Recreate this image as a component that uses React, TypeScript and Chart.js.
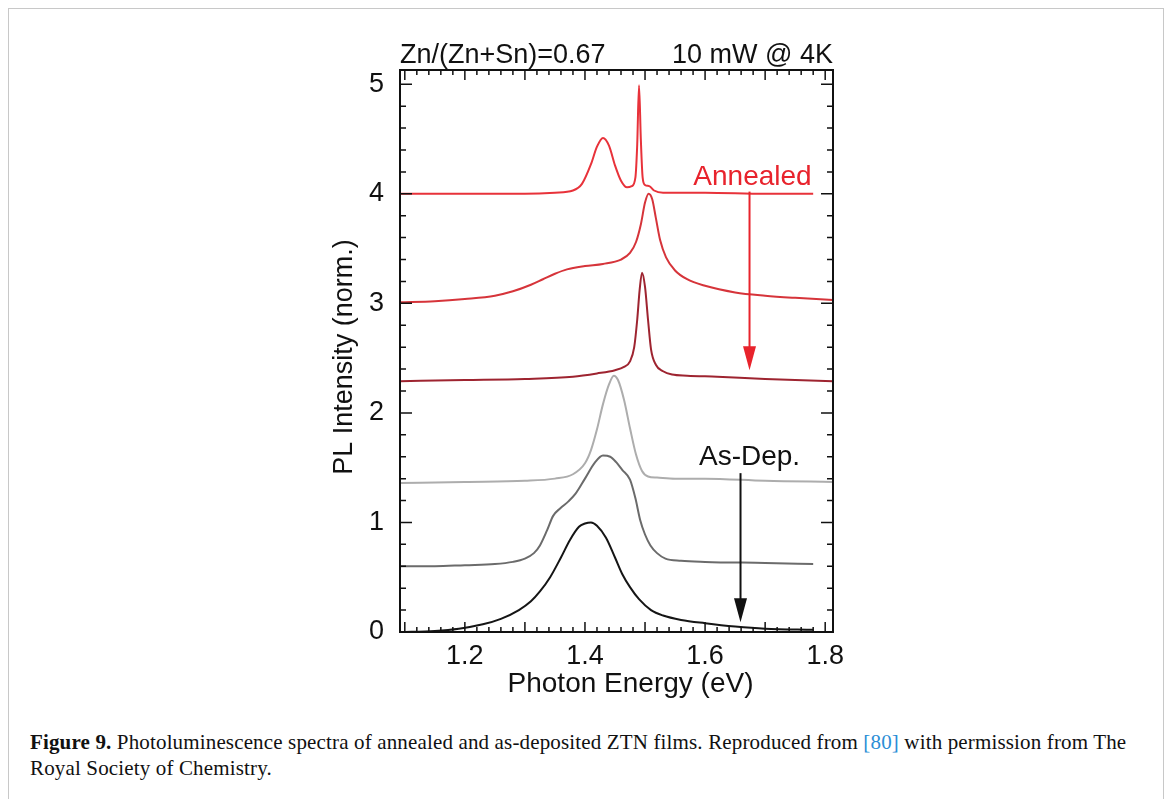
import React, { useEffect, useRef } from 'react';
import { Chart, registerables } from 'chart.js';

Chart.register(...registerables);

// ---- Data (photon energy in eV, PL intensity normalised + offset) ----
const annealed1E = [1.092, 1.2, 1.3, 1.35, 1.38, 1.395, 1.41, 1.42, 1.43, 1.44, 1.45, 1.46, 1.47, 1.478, 1.484, 1.487, 1.49, 1.493, 1.496, 1.5, 1.507, 1.515, 1.53, 1.6, 1.7, 1.78];
const annealed1I = [4.0, 4.0, 4.0, 4.01, 4.03, 4.09, 4.27, 4.43, 4.51, 4.44, 4.26, 4.12, 4.06, 4.07, 4.15, 4.45, 4.99, 4.5, 4.15, 4.08, 4.07, 4.03, 4.01, 4.01, 4.0, 4.0];

const annealed2E = [1.092, 1.15, 1.2, 1.25, 1.28, 1.31, 1.33, 1.35, 1.37, 1.4, 1.43, 1.46, 1.475, 1.485, 1.493, 1.5, 1.506, 1.512, 1.518, 1.525, 1.535, 1.55, 1.57, 1.6, 1.65, 1.7, 1.75, 1.813];
const annealed2I = [3.01, 3.02, 3.04, 3.07, 3.11, 3.17, 3.22, 3.27, 3.31, 3.34, 3.36, 3.4, 3.46, 3.56, 3.72, 3.92, 4.0, 3.95, 3.78, 3.58, 3.42, 3.3, 3.22, 3.16, 3.1, 3.07, 3.05, 3.03];

const annealed3E = [1.092, 1.2, 1.3, 1.38, 1.42, 1.45, 1.465, 1.475, 1.482, 1.487, 1.491, 1.495, 1.5, 1.505, 1.51, 1.518, 1.53, 1.545, 1.57, 1.62, 1.7, 1.813];
const annealed3I = [2.29, 2.3, 2.31, 2.33, 2.36, 2.39, 2.42, 2.47, 2.6, 2.85, 3.12, 3.28, 3.15, 2.85, 2.58, 2.44, 2.38, 2.35, 2.34, 2.33, 2.31, 2.29];

const asDep1E = [1.092, 1.2, 1.3, 1.35, 1.38, 1.4, 1.41, 1.42, 1.43, 1.44, 1.448, 1.455, 1.465, 1.475, 1.485, 1.495, 1.505, 1.52, 1.55, 1.6, 1.7, 1.813];
const asDep1I = [1.36, 1.37, 1.38, 1.4, 1.44, 1.54, 1.66, 1.85, 2.08, 2.26, 2.34, 2.3, 2.12, 1.86, 1.62, 1.47, 1.42, 1.41, 1.4, 1.4, 1.38, 1.37];

const asDep2E = [1.092, 1.15, 1.2, 1.25, 1.28, 1.3, 1.315, 1.325, 1.337, 1.347, 1.359, 1.372, 1.384, 1.4, 1.417, 1.43, 1.442, 1.452, 1.462, 1.475, 1.484, 1.492, 1.5, 1.509, 1.52, 1.534, 1.56, 1.6, 1.7, 1.78];
const asDep2I = [0.6, 0.6, 0.61, 0.62, 0.64, 0.67, 0.72, 0.79, 0.93, 1.06, 1.13, 1.19, 1.26, 1.4, 1.55, 1.61, 1.6, 1.55, 1.48, 1.39, 1.22, 1.02, 0.89, 0.79, 0.72, 0.67, 0.65, 0.64, 0.63, 0.62];

const asDep3E = [1.092, 1.15, 1.19, 1.23, 1.26, 1.29, 1.31, 1.325, 1.342, 1.36, 1.375, 1.39, 1.4, 1.41, 1.42, 1.435, 1.45, 1.462, 1.475, 1.49, 1.51, 1.53, 1.56, 1.6, 1.65, 1.7, 1.78];
const asDep3I = [0.0, 0.01, 0.03, 0.07, 0.12, 0.2, 0.28, 0.37, 0.5, 0.68, 0.84, 0.96, 0.99, 1.0, 0.97, 0.86, 0.68, 0.53, 0.41, 0.3, 0.2, 0.15, 0.11, 0.08, 0.05, 0.03, 0.02];

const xTickValues = [1.2, 1.4, 1.6, 1.8];
const xTickLabels = ['1.2', '1.4', '1.6', '1.8'];
const yTickValues = [0, 1, 2, 3, 4, 5];
const yTickLabels = ['0', '1', '2', '3', '4', '5'];

const X_MIN = 1.092;
const X_MAX = 1.813;
const Y_MIN = 0;
const Y_MAX = 5.13;

const titleLeft = 'Zn/(Zn+Sn)=0.67';
const titleRight = '10 mW @ 4K';
const xTitle = 'Photon Energy (eV)';
const yTitle = 'PL Intensity (norm.)';

// annotation arrows: [x, yStart, yEnd]
const annealedArrow = [1.674, 4.02, 2.39];
const asDepArrow = [1.659, 1.45, 0.09];
const annealedLabel = { text: 'Annealed', x: 1.679, y: 4.08 };
const asDepLabel = { text: 'As-Dep.', x: 1.674, y: 1.52 };

const FONT = '"Liberation Sans", Arial, Helvetica, sans-serif';

const toPoints = (e: number[], i: number[]) => e.map((v, k) => ({ x: v, y: i[k] }));

function drawArrow(ctx: CanvasRenderingContext2D, px: number, y1: number, y2: number, color: string) {
  const headLen = 24;
  const headHalf = 6.5;
  ctx.save();
  ctx.strokeStyle = color;
  ctx.fillStyle = color;
  ctx.lineWidth = 2;
  ctx.beginPath();
  ctx.moveTo(px, y1);
  ctx.lineTo(px, y2 - headLen + 2);
  ctx.stroke();
  ctx.beginPath();
  ctx.moveTo(px, y2);
  ctx.lineTo(px - headHalf, y2 - headLen);
  ctx.lineTo(px + headHalf, y2 - headLen);
  ctx.closePath();
  ctx.fill();
  ctx.restore();
}

const decorPlugin = {
  id: 'decor',
  afterDatasetsDraw(chart: any) {
    const { ctx, chartArea: a, scales } = chart;
    const x = scales.x;
    const y = scales.y;
    ctx.save();
    ctx.strokeStyle = '#111';
    ctx.lineWidth = 1.5;
    // x minor ticks every 0.02, major every 0.1
    for (let k = 55; k <= 90; k++) {
      const px = x.getPixelForValue(k / 50);
      const len = k % 5 === 0 ? 10 : 5;
      ctx.beginPath();
      ctx.moveTo(px, a.bottom);
      ctx.lineTo(px, a.bottom - len);
      ctx.moveTo(px, a.top);
      ctx.lineTo(px, a.top + len);
      ctx.stroke();
    }
    // y minor ticks every 0.2, major every 1
    for (let k = 0; k <= 25; k++) {
      const py = y.getPixelForValue(k / 5);
      const len = k % 5 === 0 ? 12 : 6;
      ctx.beginPath();
      ctx.moveTo(a.left, py);
      ctx.lineTo(a.left + len, py);
      ctx.moveTo(a.right, py);
      ctx.lineTo(a.right - len, py);
      ctx.stroke();
    }
    // frame
    ctx.lineWidth = 2;
    ctx.strokeRect(a.left, a.top, a.right - a.left, a.bottom - a.top);

    // top titles
    ctx.fillStyle = '#111';
    ctx.font = `27px ${FONT}`;
    ctx.textBaseline = 'alphabetic';
    ctx.textAlign = 'left';
    ctx.fillText(titleLeft, a.left, 63);
    ctx.textAlign = 'right';
    ctx.fillText(titleRight, a.right, 63);

    // axis titles
    ctx.font = `28px ${FONT}`;
    ctx.textAlign = 'center';
    ctx.textBaseline = 'middle';
    ctx.fillText(xTitle, (a.left + a.right) / 2 + 14, a.bottom + 52);
    ctx.save();
    ctx.translate(a.left - 55, (a.top + a.bottom) / 2 + 6);
    ctx.rotate(-Math.PI / 2);
    ctx.font = `27px ${FONT}`;
    ctx.fillText(yTitle, 0, 0);
    ctx.restore();
    ctx.textBaseline = 'alphabetic';

    // arrows
    drawArrow(ctx, x.getPixelForValue(annealedArrow[0]), y.getPixelForValue(annealedArrow[1]), y.getPixelForValue(annealedArrow[2]), '#e8232c');
    drawArrow(ctx, x.getPixelForValue(asDepArrow[0]), y.getPixelForValue(asDepArrow[1]), y.getPixelForValue(asDepArrow[2]), '#111');

    // labels
    ctx.font = `28px ${FONT}`;
    ctx.textAlign = 'center';
    ctx.fillStyle = '#e8232c';
    ctx.fillText(annealedLabel.text, x.getPixelForValue(annealedLabel.x), y.getPixelForValue(annealedLabel.y));
    ctx.fillStyle = '#111';
    ctx.fillText(asDepLabel.text, x.getPixelForValue(asDepLabel.x), y.getPixelForValue(asDepLabel.y));
    ctx.restore();
  },
};

export default function App() {
  const ref = useRef<HTMLCanvasElement | null>(null);

  useEffect(() => {
    if (!ref.current) return;
    const mk = (e: number[], i: number[], color: string, w = 2) => ({
      data: toPoints(e, i),
      borderColor: color,
      borderWidth: w,
      pointRadius: 0,
      fill: false,
      cubicInterpolationMode: 'monotone' as const,
    });
    const chart = new Chart(ref.current, {
      type: 'line',
      data: {
        datasets: [
          mk(asDep3E, asDep3I, '#151515'),
          mk(asDep2E, asDep2I, '#6b6b6b'),
          mk(asDep1E, asDep1I, '#adadad'),
          mk(annealed3E, annealed3I, '#9e2430'),
          mk(annealed2E, annealed2I, '#d6343a'),
          mk(annealed1E, annealed1I, '#e8323a'),
        ],
      },
      options: {
        animation: false,
        responsive: false,
        maintainAspectRatio: false,
        layout: { padding: { left: 330, right: 335, top: 70, bottom: 19 } },
        plugins: { legend: { display: false }, tooltip: { enabled: false }, title: { display: false } },
        scales: {
          x: {
            type: 'linear',
            min: X_MIN,
            max: X_MAX,
            grid: { display: false },
            border: { display: false },
            afterBuildTicks: (s: any) => {
              s.ticks = xTickValues.map((v) => ({ value: v }));
            },
            afterFit: (s: any) => {
              s.height = 69;
            },
            ticks: {
              autoSkip: false,
              maxRotation: 0,
              padding: 0,
              color: '#111',
              font: { family: FONT, size: 27 },
              callback: (v: any) => {
                const idx = xTickValues.findIndex((t) => Math.abs(t - Number(v)) < 1e-6);
                return idx >= 0 ? xTickLabels[idx] : '';
              },
            },
            title: { display: false, text: xTitle },
          },
          y: {
            type: 'linear',
            min: Y_MIN,
            max: Y_MAX,
            grid: { display: false },
            border: { display: false },
            afterBuildTicks: (s: any) => {
              s.ticks = yTickValues.map((v) => ({ value: v }));
            },
            afterFit: (s: any) => {
              s.width = 70;
            },
            ticks: {
              autoSkip: false,
              padding: 8,
              color: '#111',
              font: { family: FONT, size: 27 },
              callback: (v: any) => {
                const idx = yTickValues.findIndex((t) => Math.abs(t - Number(v)) < 1e-6);
                return idx >= 0 ? yTickLabels[idx] : '';
              },
            },
            title: { display: false, text: yTitle },
          },
        },
      },
      plugins: [decorPlugin],
    });
    return () => chart.destroy();
  }, []);

  return (
    <div style={{ position: 'fixed', left: 0, top: 0, width: 1168, height: 799, background: '#fff', overflow: 'hidden' }}>
      <div
        style={{
          position: 'absolute',
          left: 8,
          top: 8,
          width: 1156,
          height: 810,
          border: '1.5px solid #c8c8c8',
          boxSizing: 'border-box',
        }}
      />
      <canvas ref={ref} width={1168} height={720} style={{ position: 'absolute', left: 0, top: 0, width: 1168, height: 720 }} />
      <div
        style={{
          position: 'absolute',
          left: 30,
          top: 729,
          whiteSpace: 'nowrap',
          fontFamily: '"Liberation Serif", "Times New Roman", serif',
          fontSize: 21,
          letterSpacing: '0.15px',
          lineHeight: '26px',
          color: '#111',
        }}
      >
        <span style={{ fontWeight: 'bold' }}>Figure 9.</span> Photoluminescence spectra of annealed and as-deposited ZTN films. Reproduced from{' '}
        <span style={{ color: '#2b8ed6' }}>[80]</span> with permission from The
        <br />
        Royal Society of Chemistry.
      </div>
    </div>
  );
}
